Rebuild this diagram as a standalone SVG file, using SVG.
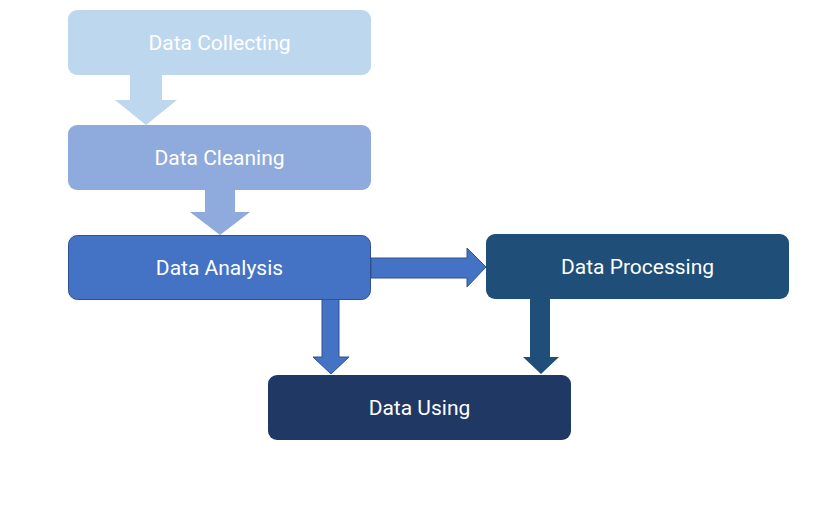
<svg xmlns="http://www.w3.org/2000/svg" width="831" height="507" viewBox="0 0 831 507">
<style>
.lbl{font-family:Roboto,"Liberation Sans",sans-serif;font-size:21px;fill:#ffffff;text-anchor:middle;dominant-baseline:central}
</style>
<rect width="831" height="507" fill="#ffffff"/>
<g id="connectors">
<polygon points="130,75 162,75 162,100 177,100 146,125 115,100 130,100" fill="#BDD7EE"/>
<polygon points="205,190 235,190 235,212 250,212 220,235 190,212 205,212" fill="#8FAADC"/>
<polygon points="371,258 467,258 467,248 486,267 467,287 467,278 371,278" fill="#4472C4" stroke="#2F528F" stroke-width="1"/>
<polygon points="322,299 339,299 339,357 349,357 331,374 313,357 322,357" fill="#4472C4" stroke="#2F528F" stroke-width="1"/>
<polygon points="530,299 550,299 550,357 559,357 541,374 523,357 530,357" fill="#1F4E79"/>
</g>
<g id="n1"><rect x="68" y="10" width="303" height="65" rx="9" fill="#BDD7EE"/><text class="lbl" x="219.5" y="43">Data Collecting</text></g>
<g id="n2"><rect x="68" y="125" width="303" height="65" rx="9" fill="#8FAADC"/><text class="lbl" x="219.5" y="158">Data Cleaning</text></g>
<g id="n3"><rect x="68.5" y="235.5" width="302" height="64" rx="9" fill="#4472C4" stroke="#2F528F" stroke-width="1"/><text class="lbl" x="219.5" y="268">Data Analysis</text></g>
<g id="n4"><rect x="486" y="234" width="303" height="65" rx="9" fill="#1F4E79"/><text class="lbl" x="637.5" y="267">Data Processing</text></g>
<g id="n5"><rect x="268" y="375" width="303" height="65" rx="9" fill="#203864"/><text class="lbl" x="419.5" y="408">Data Using</text></g>
</svg>
